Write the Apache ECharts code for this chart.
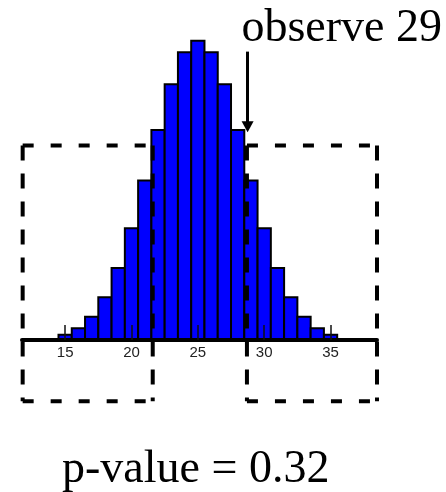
<!DOCTYPE html>
<html>
<head>
<meta charset="utf-8">
<script src="https://cdn.jsdelivr.net/npm/echarts@6/dist/echarts.min.js"></script>
<style>
  html, body { margin: 0; padding: 0; background: #fff; }
  #chart { width: 446px; height: 492px; }
</style>
</head>
<body>
<div id="chart"></div>
<script>
// Number of successes and their probabilities (50 fair coin flips)
const outcomes = [15, 16, 17, 18, 19, 20, 21, 22, 23, 24, 25, 26, 27, 28, 29, 30, 31, 32, 33, 34, 35];
const probs = [0.0020, 0.0044, 0.0087, 0.0160, 0.0270, 0.0419, 0.0598, 0.0788, 0.0960, 0.1080,
               0.1123, 0.1080, 0.0960, 0.0788, 0.0598, 0.0419, 0.0270, 0.0160, 0.0087, 0.0044, 0.0020];
const tickValues = [15, 20, 25, 30, 35];

// Observed count and the two tail regions that are "at least as extreme"
const observed = 29;
const observedLabel = 'observe 29';
const lowerTail = [11.8, 21.6];
const upperTail = [28.7, 38.5];
const tailBand = [-0.023, 0.073];
const arrowSpan = [0.1082, 0.0800];
const pValueText = 'p-value = 0.32';

const chart = echarts.init(document.getElementById('chart'));

const option = {
  animation: false,
  grid: { left: 22, width: 355, top: 33.5, height: 306.5 },
  xAxis: {
    type: 'value',
    min: 11.75,
    max: 38.5,
    z: 5,
    splitLine: { show: false },
    axisLine: { lineStyle: { color: '#000', width: 4 } },
    axisTick: {
      inside: true,
      length: 15,
      customValues: tickValues,
      lineStyle: { color: '#111', width: 1.5 }
    },
    axisLabel: {
      customValues: tickValues,
      margin: 5,
      color: '#222',
      fontFamily: 'Liberation Sans',
      fontSize: 15
    }
  },
  yAxis: {
    type: 'value',
    min: 0,
    max: 0.115,
    show: false
  },
  series: [{
    type: 'custom',
    data: outcomes.map((k, i) => [k, probs[i]]),
    renderItem: function (params, api) {
      const k = api.value(0);
      const p = api.value(1);
      const tl = api.coord([k - 0.5, p]);
      const br = api.coord([k + 0.5, 0]);
      return {
        type: 'rect',
        shape: { x: tl[0], y: tl[1], width: br[0] - tl[0], height: br[1] - tl[1] },
        style: { fill: '#0000ff', stroke: '#000', lineWidth: 2 }
      };
    },
    markLine: {
      silent: true,
      symbol: ['none', 'triangle'],
      symbolSize: [12, 11],
      label: { show: false },
      lineStyle: { color: '#000', width: 3, type: 'solid' },
      data: [[
        { coord: [observed - 0.25, arrowSpan[0]] },
        { coord: [observed - 0.25, arrowSpan[1]] }
      ]]
    }
  }]
};
chart.setOption(option);

// Dashed outlines around both tails, placed from data coordinates
function dashedBox(range) {
  const a = chart.convertToPixel({ gridIndex: 0 }, [range[0], tailBand[1]]);
  const b = chart.convertToPixel({ gridIndex: 0 }, [range[1], tailBand[0]]);
  const hStyle = { stroke: '#000', lineWidth: 4, lineDash: [11, 17], fill: null };
  const vStyle = { stroke: '#000', lineWidth: 4, lineDash: [15, 13], fill: null };
  return [
    { type: 'line', z: 50, shape: { x1: a[0], y1: a[1], x2: b[0], y2: a[1] }, style: hStyle },
    { type: 'line', z: 50, shape: { x1: a[0], y1: b[1], x2: b[0], y2: b[1] }, style: hStyle },
    { type: 'line', z: 50, shape: { x1: a[0], y1: a[1], x2: a[0], y2: b[1] }, style: vStyle },
    { type: 'line', z: 50, shape: { x1: b[0], y1: a[1], x2: b[0], y2: b[1] }, style: vStyle }
  ];
}

chart.setOption({
  graphic: [
    ...dashedBox(lowerTail),
    ...dashedBox(upperTail),
    {
      type: 'text', z: 50, right: 4, top: 6,
      style: { text: observedLabel, fill: '#000', font: '46px "Liberation Serif"' }
    },
    {
      type: 'text', z: 50, left: 62, top: 447,
      style: { text: pValueText, fill: '#000', font: '46px "Liberation Serif"' }
    }
  ]
});
</script>
</body>
</html>
